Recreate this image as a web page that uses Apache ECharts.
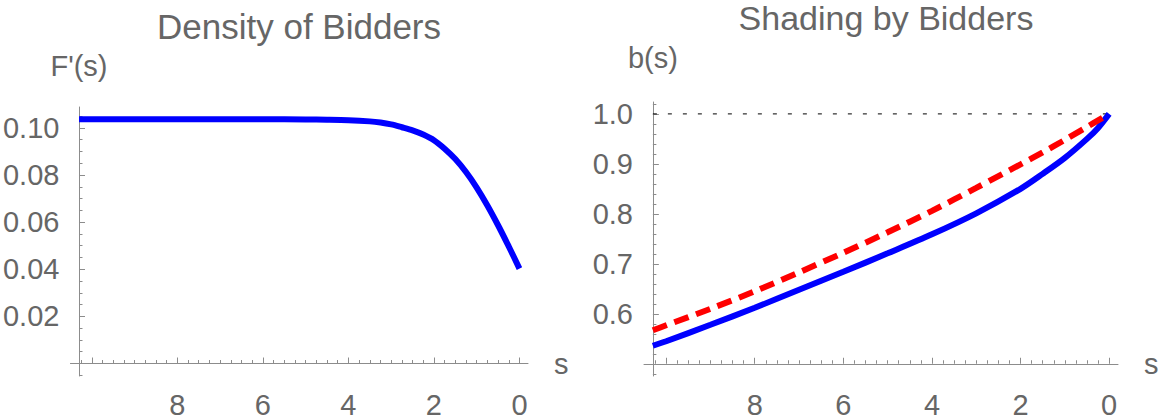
<!DOCTYPE html>
<html><head><meta charset="utf-8">
<script src="https://cdn.jsdelivr.net/npm/echarts@6/dist/echarts.min.js"></script>
<style>html,body{margin:0;padding:0;background:#fff}#c{width:1164px;height:419px}</style>
</head><body><div id="c"></div>
<script>
// ---- Left panel: Density of Bidders ----
const sLeft   = [10.3, 9, 8, 7, 6, 5, 4.5, 4, 3.5, 3.25, 3, 2.75, 2.5, 2.25, 2, 1.75, 1.5, 1.25, 1, 0.75, 0.5, 0.25, 0];
const density = [0.1037, 0.1037, 0.1037, 0.1037, 0.1037, 0.1036, 0.1035, 0.1033, 0.1028, 0.1023, 0.1015, 0.1003, 0.0990, 0.0972, 0.0948, 0.0912, 0.0868, 0.0813, 0.0747, 0.0671, 0.0587, 0.0497, 0.0403];
// ---- Right panel: Shading by Bidders ----
const sRight  = [10.3, 10, 9, 8, 7, 6, 5, 4, 3, 2, 1.5, 1, 0.5, 0.25, 0];
const bidBlue = [0.536, 0.545, 0.578, 0.612, 0.648, 0.684, 0.721, 0.759, 0.801, 0.850, 0.880, 0.912, 0.950, 0.972, 1.0];
const bidRed  = [0.567, 0.577, 0.610, 0.645, 0.683, 0.722, 0.763, 0.806, 0.852, 0.899, 0.923, 0.948, 0.974, 0.987, 1.0];
const refLevel = 1.0;
// ---- ticks ----
const xMajorTicks = [0, 2, 4, 6, 8, 10];
const xTickLabels = [0, 2, 4, 6, 8];
const xMinorTicks = [0.25,0.5,0.75,1,1.25,1.5,1.75,2.25,2.5,2.75,3,3.25,3.5,3.75,4.25,4.5,4.75,5,5.25,5.5,5.75,6.25,6.5,6.75,7,7.25,7.5,7.75,8.25,8.5,8.75,9,9.25,9.5,9.75,10.25];
const yLeftLabels = [0.02, 0.04, 0.06, 0.08, 0.10];
const yLeftMinor  = [-0.005,0.005,0.01,0.015,0.025,0.03,0.035,0.045,0.05,0.055,0.065,0.07,0.075,0.085,0.09,0.095,0.105];
const yRightLabels = [0.6, 0.7, 0.8, 0.9, 1.0];
const yRightMinor  = [0.48,0.52,0.54,0.56,0.58,0.62,0.64,0.66,0.68,0.72,0.74,0.76,0.78,0.82,0.84,0.86,0.88,0.92,0.94,0.96,0.98,1.02];

const AX = '#8c8c8c', TXT = '#666666', FONT = 'Liberation Sans';
const X_MIN = -0.2, X_MAX = 10.5;

function mainX(grid, yIdx) {
  return { type:'value', gridIndex:grid, inverse:true, min:X_MIN, max:X_MAX, position:'bottom',
    name:'s', nameLocation:'start', nameGap:26,
    nameTextStyle:{color:TXT, fontSize:29, fontFamily:FONT, verticalAlign:'middle'},
    axisLine:{show:true, onZero:true, onZeroAxisIndex:yIdx, lineStyle:{color:AX, width:1}},
    axisTick:{show:true, inside:true, length:6, customValues:xMajorTicks, lineStyle:{color:AX}},
    axisLabel:{show:true, customValues:xTickLabels, margin:14, color:TXT, fontSize:29, fontFamily:FONT, formatter:v=>String(v)},
    splitLine:{show:false} };
}
function minorX(grid, yIdx) {
  return { type:'value', gridIndex:grid, inverse:true, min:X_MIN, max:X_MAX, position:'bottom',
    axisLine:{show:false, onZero:true, onZeroAxisIndex:yIdx},
    axisTick:{show:true, inside:true, length:3.5, customValues:xMinorTicks, lineStyle:{color:AX}},
    axisLabel:{show:false}, splitLine:{show:false} };
}
function helperX(grid) {
  return { type:'value', gridIndex:grid, show:false, min:X_MIN, max:X_MAX, position:'top',
    axisLine:{onZero:false}, splitLine:{show:false} };
}

const option = {
  animation:false,
  backgroundColor:'#ffffff',
  grid:[
    {left:70, top:107, width:458, height:281},
    {left:644, top:102, width:474, height:290}
  ],
  graphic:[
    {type:'text', x:299, y:9, style:{text:'Density of Bidders', fill:TXT, font:'35px "Liberation Sans"', align:'center', verticalAlign:'top'}},
    {type:'text', x:886, y:1, style:{text:'Shading by Bidders', fill:TXT, font:'34px "Liberation Sans"', align:'center', verticalAlign:'top'}}
  ],
  xAxis:[
    mainX(0, 0),      // 0
    helperX(0),       // 1
    minorX(0, 0),     // 2
    mainX(1, 3),      // 3
    helperX(1),       // 4
    minorX(1, 3)      // 5
  ],
  yAxis:[
    { // 0 left main
      type:'value', gridIndex:0, min:-0.0053, max:0.1089, position:'left',
      name:"F'(s)", nameLocation:'end', nameGap:27,
      nameTextStyle:{color:TXT, fontSize:29, fontFamily:FONT, align:'center'},
      axisLine:{show:true, onZero:true, onZeroAxisIndex:1, lineStyle:{color:AX, width:1}},
      axisTick:{show:true, inside:true, length:6, customValues:yLeftLabels, lineStyle:{color:AX}},
      axisLabel:{show:true, customValues:yLeftLabels, margin:11, color:TXT, fontSize:29, fontFamily:FONT, formatter:v=>v.toFixed(2)},
      splitLine:{show:false}
    },
    { // 1 left minor
      type:'value', gridIndex:0, min:-0.0053, max:0.1089, position:'left',
      axisLine:{show:false, onZero:true, onZeroAxisIndex:1},
      axisTick:{show:true, inside:true, length:3.5, customValues:yLeftMinor, lineStyle:{color:AX}},
      axisLabel:{show:false}, splitLine:{show:false}
    },
    { // 2 right main
      type:'value', gridIndex:1, min:0.4755, max:1.0238, position:'left',
      name:'b(s)', nameLocation:'end', nameGap:30,
      nameTextStyle:{color:TXT, fontSize:29, fontFamily:FONT, align:'center'},
      axisLine:{show:true, onZero:true, onZeroAxisIndex:4, lineStyle:{color:AX, width:1}},
      axisTick:{show:true, inside:true, length:6, customValues:yRightLabels, lineStyle:{color:AX}},
      axisLabel:{show:true, customValues:yRightLabels, margin:11, color:TXT, fontSize:29, fontFamily:FONT, formatter:v=>v.toFixed(1)},
      splitLine:{show:false}
    },
    { // 3 right helper: zero sits at b = 0.5
      type:'value', gridIndex:1, show:false, min:0.4755-0.5, max:1.0238-0.5, position:'right',
      axisLine:{onZero:false}, splitLine:{show:false}
    },
    { // 4 right minor
      type:'value', gridIndex:1, min:0.4755, max:1.0238, position:'left',
      axisLine:{show:false, onZero:true, onZeroAxisIndex:4},
      axisTick:{show:true, inside:true, length:3.5, customValues:yRightMinor, lineStyle:{color:AX}},
      axisLabel:{show:false}, splitLine:{show:false}
    }
  ],
  series:[
    { type:'line', xAxisIndex:0, yAxisIndex:0, showSymbol:false, smooth:0.3, z:3,
      data:sLeft.map((s,i)=>[s,density[i]]),
      lineStyle:{color:'#0000ff', width:6}},
    { type:'line', xAxisIndex:3, yAxisIndex:2, showSymbol:false, z:2,
      data:[[sRight[0],refLevel],[sRight[sRight.length-1],refLevel]],
      lineStyle:{color:'#000000', width:1, type:[4,11]}},
    { type:'line', xAxisIndex:3, yAxisIndex:2, showSymbol:false, smooth:0.3, z:3,
      data:sRight.map((s,i)=>[s,bidBlue[i]]),
      lineStyle:{color:'#0000ff', width:6}},
    { type:'line', xAxisIndex:3, yAxisIndex:2, showSymbol:false, smooth:0.3, z:4,
      data:sRight.map((s,i)=>[s,bidRed[i]]),
      lineStyle:{color:'#ff0000', width:6, type:[15,8]}}
  ]
};
const chart = echarts.init(document.getElementById('c'), null, {renderer:'svg'});
chart.setOption(option);
</script>
</body></html>
